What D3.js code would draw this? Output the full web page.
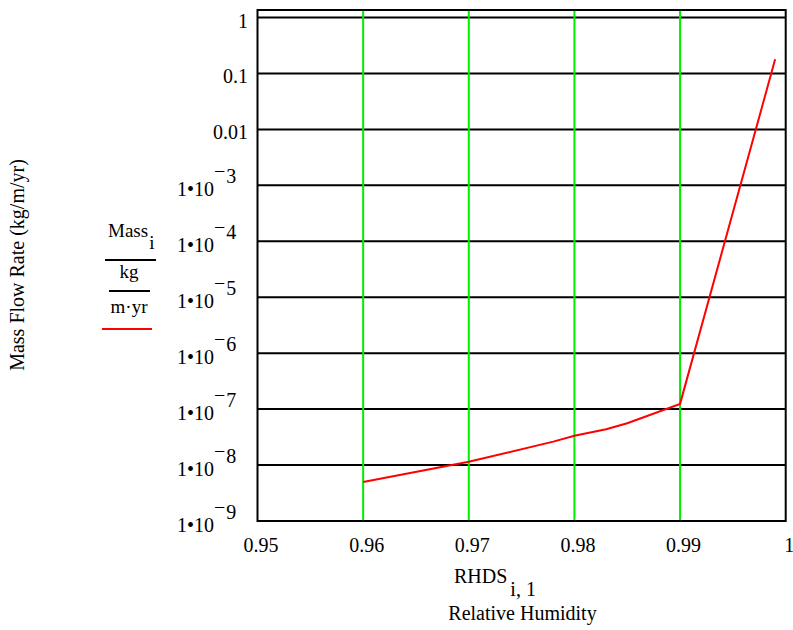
<!DOCTYPE html>
<html><head><meta charset="utf-8">
<script src="https://cdn.jsdelivr.net/npm/d3@7"></script>
<style>html,body{margin:0;padding:0;background:#fff;}svg{display:block;}text{font-family:"Liberation Serif","Times New Roman",serif;fill:#000;}</style>
</head><body>
<svg id="chart" width="793" height="630"></svg>
<script>
const rh = [0.96, 0.97, 0.971, 0.978, 0.98, 0.983, 0.985, 0.99, 0.999];
const mass = [4.98e-9, 1.15e-8, 1.27e-8, 2.62e-8, 3.35e-8, 4.36e-8, 5.58e-8, 1.24e-7, 0.179];
const xTicks = [0.95, 0.96, 0.97, 0.98, 0.99, 1];
const xTickLabels = ["0.95", "0.96", "0.97", "0.98", "0.99", "1"];
const yTicks = [1, 0.1, 0.01, 1e-3, 1e-4, 1e-5, 1e-6, 1e-7, 1e-8, 1e-9];
const yTickLabels = ["1", "0.1", "0.01", "-3", "-4", "-5", "-6", "-7", "-8", "-9"];
const greenLines = [0.96, 0.97, 0.98, 0.99];

const svg = d3.select("#chart");
const L = 257.5, R = 785.7, T = 10, B = 521;
const x = d3.scaleLinear().domain([0.95, 1]).range([L, R]);
const y = d3.scaleLog().domain([1e-9, Math.pow(10, 7.5/55.94)]).range([B, T]);
const fs = 20;

// horizontal decade gridlines (black)
svg.append("g").selectAll("line").data(yTicks).join("line")
  .attr("x1", L).attr("x2", R).attr("y1", d => y(d)).attr("y2", d => y(d))
  .attr("stroke", "#000").attr("stroke-width", 2);
// vertical gridlines (green)
svg.append("g").selectAll("line").data(greenLines).join("line")
  .attr("x1", d => x(d)).attr("x2", d => x(d)).attr("y1", T).attr("y2", B)
  .attr("stroke", "#00ee00").attr("stroke-width", 2);
// frame
svg.append("rect").attr("x", L).attr("y", T).attr("width", R - L).attr("height", B - T)
  .attr("fill", "none").attr("stroke", "#000").attr("stroke-width", 2);

// data line
const line = d3.line().x((d, i) => x(rh[i])).y(d => y(d));
svg.append("path").datum(mass).attr("d", line)
  .attr("fill", "none").attr("stroke", "#ff0000").attr("stroke-width", 2);

// x tick labels
svg.append("g").selectAll("text").data(xTicks).join("text")
  .attr("x", d => x(d) + 3.5).attr("y", B + 31)
  .attr("text-anchor", "middle").attr("font-size", fs)
  .text((d, i) => xTickLabels[i]);

// y tick labels
yTicks.forEach((v, i) => {
  const lab = yTickLabels[i];
  const gy = y(v);
  if (!lab.startsWith("-")) {
    svg.append("text").attr("x", 248).attr("y", gy + 10)
      .attr("text-anchor", "end").attr("font-size", fs).text(lab);
  } else {
    const t = svg.append("text").attr("x", 177).attr("y", gy + 11)
      .attr("font-size", fs);
    t.append("tspan").text("1\u202210");
    t.append("tspan").attr("dy", -18).attr("dx", 0).text("\u2212");
    t.append("tspan").attr("dy", 5).attr("dx", 1).text(lab.slice(1));
  }
});

// x axis title
const xt = svg.append("text").attr("x", 454).attr("y", 583).attr("font-size", fs);
xt.append("tspan").text("RHDS");
xt.append("tspan").attr("dy", 13).attr("dx", 3).text("i, 1");
svg.append("text").attr("x", 522.5).attr("y", 620).attr("text-anchor", "middle")
  .attr("font-size", fs).text("Relative Humidity");

// y axis title
svg.append("text").attr("transform", "translate(24,265) rotate(-90)")
  .attr("text-anchor", "middle").attr("font-size", fs).text("Mass Flow Rate (kg/m/yr)");

// legend expression
const lfs = 19;
const lg = svg.append("text").attr("x", 108).attr("y", 237).attr("font-size", lfs);
lg.append("tspan").text("Mass");
lg.append("tspan").attr("dy", 12).attr("dx", 1).text("i");
svg.append("line").attr("x1", 105).attr("x2", 156).attr("y1", 260).attr("y2", 260)
  .attr("stroke", "#000").attr("stroke-width", 2);
svg.append("text").attr("x", 129).attr("y", 278).attr("text-anchor", "middle")
  .attr("font-size", lfs).text("kg");
svg.append("line").attr("x1", 109).attr("x2", 150).attr("y1", 291).attr("y2", 291)
  .attr("stroke", "#000").attr("stroke-width", 2);
svg.append("text").attr("x", 129).attr("y", 313).attr("text-anchor", "middle")
  .attr("font-size", lfs).text("m\u00b7yr");
svg.append("line").attr("x1", 102).attr("x2", 152).attr("y1", 329).attr("y2", 329)
  .attr("stroke", "#ff0000").attr("stroke-width", 2);
</script>
</body></html>
